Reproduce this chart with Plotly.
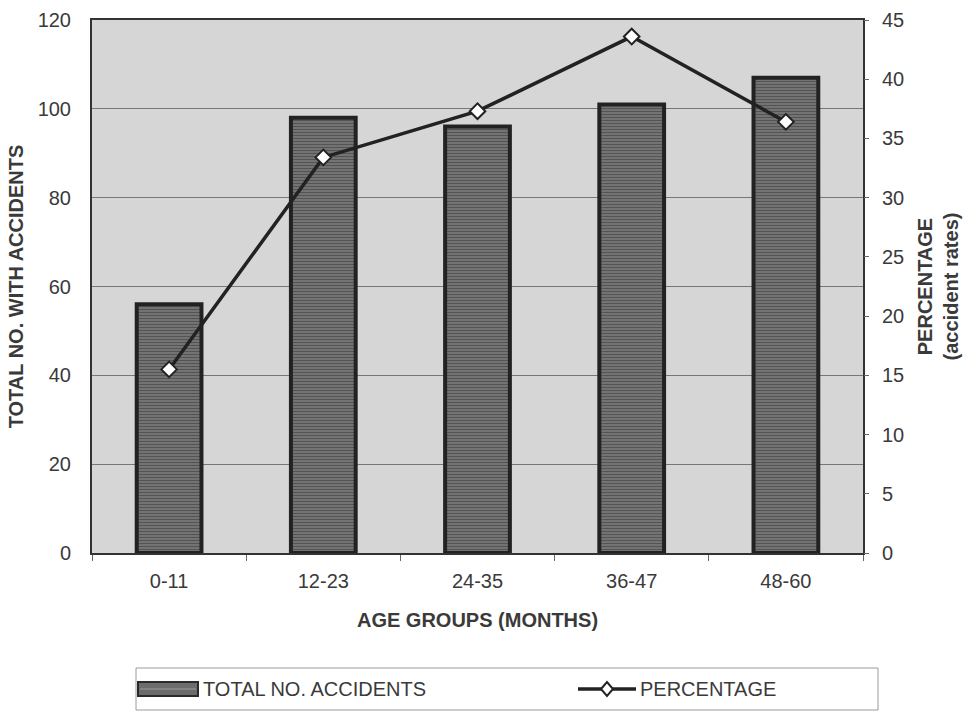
import plotly.graph_objects as go

age_groups = ["0-11", "12-23", "24-35", "36-47", "48-60"]
total_accidents = [56, 98, 96, 101, 107]
percentage = [15.5, 33.4, 37.3, 43.6, 36.4]
left_ticks = [0, 20, 40, 60, 80, 100, 120]
right_ticks = [0, 5, 10, 15, 20, 25, 30, 35, 40, 45]
legend_labels = ["TOTAL NO. ACCIDENTS", "PERCENTAGE"]

FONT = "Liberation Sans, Arial, sans-serif"
TXT = "#3a3a3a"

# plot area in pixels (for the hand-drawn legend box)
L, R, T, B = 92, 863, 20, 553
W, H = R - L, B - T


def px(x):
    return (x - L) / W


def py(y):
    return (B - y) / H


fig = go.Figure()
fig.add_trace(go.Bar(
    x=age_groups, y=total_accidents, name=legend_labels[0],
    width=0.42, showlegend=False,
    marker=dict(color="#6c6c6c", line=dict(color="#222222", width=4),
                pattern=dict(shape="-", fgcolor="#545454", bgcolor="#767676",
                             size=3, solidity=0.4)),
    yaxis="y",
))
fig.add_trace(go.Scatter(
    x=age_groups, y=percentage, name=legend_labels[1], mode="lines+markers",
    showlegend=False,
    line=dict(color="#222222", width=3.5),
    marker=dict(symbol="diamond", size=12, color="white",
                line=dict(color="#222222", width=2)),
    yaxis="y2",
))

# legend (drawn by hand to match the original's wide symbols)
ly = py(689)
dx, dy = 6 / W, 7 / H
shapes = [
    dict(type="rect", xref="paper", yref="paper",
         x0=px(136), x1=px(878), y0=py(668), y1=py(710),
         line=dict(color="#9a9a9a", width=1), fillcolor="white"),
    dict(type="rect", xref="paper", yref="paper",
         x0=px(138), x1=px(198), y0=py(682), y1=py(696),
         line=dict(color="#2a2a2a", width=2), fillcolor="#6c6c6c"),
    dict(type="line", xref="paper", yref="paper",
         x0=px(140), x1=px(196), y0=py(689), y1=py(689),
         line=dict(color="#9a9a9a", width=1)),
    dict(type="line", xref="paper", yref="paper",
         x0=px(578), x1=px(636), y0=ly, y1=ly,
         line=dict(color="#222222", width=3.5)),
    dict(type="path", xref="paper", yref="paper",
         path=f"M {px(607)-dx},{ly} L {px(607)},{ly+dy} L {px(607)+dx},{ly} L {px(607)},{ly-dy} Z",
         line=dict(color="#222222", width=2), fillcolor="white"),
]
annotations = [
    dict(text=legend_labels[0], xref="paper", yref="paper", x=px(201), y=ly,
         xanchor="left", yanchor="middle", showarrow=False,
         font=dict(family=FONT, size=20, color=TXT)),
    dict(text=legend_labels[1], xref="paper", yref="paper", x=px(638), y=ly,
         xanchor="left", yanchor="middle", showarrow=False,
         font=dict(family=FONT, size=20, color=TXT)),
]

fig.update_layout(
    template="none",
    width=965, height=712,
    margin=dict(l=L, r=965 - R, t=T, b=712 - B, autoexpand=False),
    paper_bgcolor="white",
    plot_bgcolor="#d6d6d6",
    font=dict(family=FONT, size=20, color=TXT),
    showlegend=False,
    shapes=shapes,
    annotations=annotations,
    xaxis=dict(
        automargin=False,
        title=dict(text="<b>AGE GROUPS (MONTHS)</b>", font=dict(size=20, color=TXT), standoff=22),
        showline=True, linecolor="#333333", linewidth=2, mirror=True,
        ticks="outside", tickson="boundaries", ticklen=6, tickcolor="#666666",
        ticklabelstandoff=9,
        tickfont=dict(size=20), showgrid=False,
    ),
    yaxis=dict(
        automargin=False,
        title=dict(text="<b>TOTAL NO. WITH ACCIDENTS</b>", font=dict(size=20, color=TXT), standoff=9),
        range=[0, 120], tickvals=left_ticks,
        showline=True, linecolor="#333333", linewidth=2, mirror=True,
        showgrid=True, gridcolor="#777777", gridwidth=1,
        ticks="", ticklabelstandoff=15, tickfont=dict(size=20), zeroline=False,
    ),
    yaxis2=dict(
        automargin=False,
        title=dict(text="<b>PERCENTAGE<br>(accident rates)</b>", font=dict(size=20, color=TXT), standoff=14),
        range=[0, 45], tickvals=right_ticks, overlaying="y", side="right",
        showgrid=False, zeroline=False, ticks="outside", ticklen=5, tickcolor="#666666",
        ticklabelstandoff=9,
        tickfont=dict(size=20),
    ),
)

fig.write_html(
    "out.html",
    config={"displayModeBar": False},
    post_script="document.body.style.margin='0';document.body.style.padding='0';document.body.style.overflow='hidden';",
)
